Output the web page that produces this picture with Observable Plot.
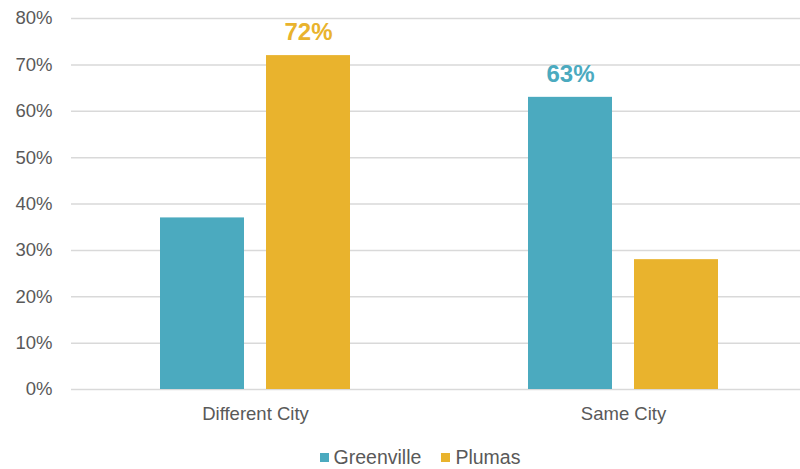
<!DOCTYPE html>
<html>
<head>
<meta charset="utf-8">
<script src="https://cdn.jsdelivr.net/npm/d3@7"></script>
<script src="https://cdn.jsdelivr.net/npm/@observablehq/plot@0.6"></script>
<style>
  html, body { margin: 0; padding: 0; background: #fff; overflow: hidden; }
  #chart { width: 800px; height: 440px; }
  .legend { display: flex; justify-content: center; align-items: center; gap: 20px; font-family: "Liberation Sans", Arial, sans-serif; font-size: 19.5px; color: #595959; margin-top: 6px; padding-left: 40px; width: 760px; }
  .legend span.sw { display: inline-block; width: 9px; height: 9px; margin-right: 5px; }
  .legend .item { display: flex; align-items: center; }
</style>
</head>
<body>
<div id="chart"></div>
<script>
const categories = ["Different City", "Same City"];
const seriesNames = ["Greenville", "Plumas"];
const greenville = [37, 63];
const plumas = [72, 28];
const greenvilleLabeled = [false, true];
const plumasLabeled = [true, false];
const yTicks = [0, 10, 20, 30, 40, 50, 60, 70, 80];
const colors = ["#4BAABF", "#E9B32D"];

const rows = [];
categories.forEach((c, i) => {
  rows.push({category: c, series: seriesNames[0], value: greenville[i] / 100, labeled: greenvilleLabeled[i]});
  rows.push({category: c, series: seriesNames[1], value: plumas[i] / 100, labeled: plumasLabeled[i]});
});

const chart = Plot.plot({
  width: 800,
  height: 440,
  marginLeft: 71,
  marginRight: -7,
  marginTop: 18,
  marginBottom: 51,
  style: {fontFamily: "'Liberation Sans', Arial, sans-serif", fontSize: "18.5px", color: "#595959", background: "#fff", overflow: "hidden"},
  fx: {domain: categories, padding: 0, label: null},
  x: {domain: seriesNames, paddingInner: 0.21, paddingOuter: 0.84, axis: null},
  y: {domain: [0, 0.8], label: null},
  color: {domain: seriesNames, range: colors},
  marks: [
    Plot.ruleY(yTicks.map(t => t / 100), {stroke: "#d9d9d9", strokeWidth: 1.5}),
    Plot.barY(rows, {fx: "category", x: "series", y: "value", fill: "series"}),
    Plot.text(rows.filter(d => d.labeled), {fx: "category", x: "series", y: "value", text: d => Math.round(d.value * 100) + "%", fill: "series", dy: -23, fontWeight: "bold", fontSize: 24}),
    Plot.axisY({ticks: yTicks.map(t => t / 100), tickFormat: d => Math.round(d * 100) + "%", tickSize: 0, tickPadding: 19, fill: "#595959", label: null}),
    Plot.axisFx({anchor: "bottom", tickSize: 0, tickPadding: 17, fill: "#595959", label: null})
  ]
});
document.getElementById("chart").appendChild(chart);

const legend = document.createElement("div");
legend.className = "legend";
seriesNames.forEach((s, i) => {
  const item = document.createElement("div");
  item.className = "item";
  const sw = document.createElement("span");
  sw.className = "sw";
  sw.style.background = colors[i];
  item.appendChild(sw);
  item.appendChild(document.createTextNode(s));
  legend.appendChild(item);
});
document.body.appendChild(legend);
</script>
</body>
</html>
